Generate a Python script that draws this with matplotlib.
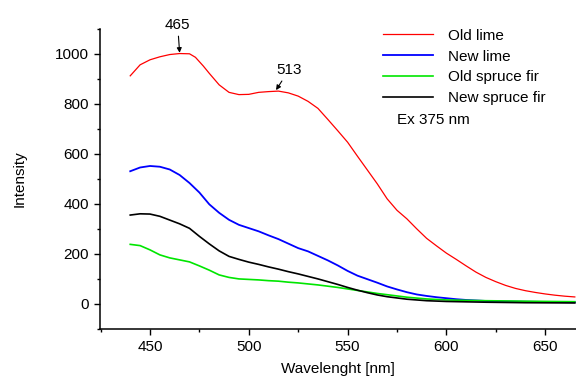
import matplotlib
matplotlib.use("Agg")
from matplotlib import pyplot as plt

plt.rcParams['font.family'] = ['Liberation Sans', 'DejaVu Sans']
plt.rcParams['font.size'] = 11

# spectra
old_lime_x = [440, 445, 450, 455, 460, 465, 470, 473, 477, 480, 485, 490, 495, 500, 505, 510, 515, 520,
              525, 530, 535, 540, 545, 550, 555, 560, 565, 570, 575, 580, 585, 590, 595, 600, 605, 610,
              615, 620, 625, 630, 635, 640, 645, 650, 655, 660, 665]
old_lime_y = [911, 955, 975, 987, 996, 1000, 999, 985, 950, 921, 875, 845, 836, 837, 845, 848, 850, 843,
              830, 809, 781, 737, 692, 646, 590, 535, 480, 420, 374, 340, 300, 262, 232, 203, 178, 152,
              127, 106, 89, 74, 62, 53, 46, 40, 35, 31, 28]

new_lime_x = [440, 445, 450, 455, 460, 465, 470, 475, 480, 485, 490, 495, 500, 505, 510, 515, 520, 525,
              530, 535, 540, 545, 550, 555, 560, 565, 570, 575, 580, 585, 590, 595, 600, 605, 610, 615,
              620, 630, 640, 650, 665]
new_lime_y = [530, 545, 551, 548, 537, 515, 483, 445, 398, 364, 336, 316, 303, 290, 274, 259, 241, 223,
              210, 192, 174, 154, 132, 113, 99, 85, 70, 58, 47, 38, 32, 27, 23, 19, 16, 14,
              12, 10, 9, 8, 7]

old_fir_x = [440, 445, 450, 455, 460, 465, 470, 475, 480, 485, 490, 495, 500, 505, 510, 515, 520, 525,
             530, 535, 540, 545, 550, 555, 560, 565, 570, 575, 580, 590, 600, 620, 640, 665]
old_fir_y = [238, 233, 216, 196, 184, 176, 168, 152, 135, 116, 106, 100, 98, 96, 93, 91, 87, 84,
             80, 76, 71, 66, 60, 54, 48, 42, 37, 32, 27, 20, 16, 13, 11, 9]

new_fir_x = [440, 445, 450, 455, 460, 465, 470, 475, 480, 485, 490, 495, 500, 505, 510, 515, 520, 525,
             530, 535, 540, 545, 550, 555, 560, 565, 570, 575, 580, 590, 600, 620, 640, 665]
new_fir_y = [355, 360, 359, 350, 335, 320, 302, 270, 240, 212, 190, 178, 167, 158, 148, 139, 129, 120,
             110, 100, 89, 78, 66, 55, 45, 36, 29, 24, 19, 13, 10, 7, 5, 4]

fig = plt.figure(figsize=(5.76, 3.8), dpi=100)
ax = fig.add_axes([100 / 576, 1 - 329 / 380, 476 / 576, 300.5 / 380])

ax.plot(old_lime_x, old_lime_y, color='#ff0000', lw=0.9, label='Old lime')
ax.plot(new_lime_x, new_lime_y, color='#0000ff', lw=1.3, label='New lime')
ax.plot(old_fir_x, old_fir_y, color='#00e600', lw=1.2, label='Old spruce fir')
ax.plot(new_fir_x, new_fir_y, color='black', lw=1.2, label='New spruce fir')

ax.set_xlim(424.7, 665.6)
ax.set_ylim(-100, 1100)
ax.set_xticks([450, 500, 550, 600, 650])
ax.set_xticks([425, 475, 525, 575, 625], minor=True)
ax.set_yticks([0, 200, 400, 600, 800, 1000])
ax.set_yticks([-100, 100, 300, 500, 700, 900, 1100], minor=True)
ax.tick_params(which='major', direction='out', length=4, width=1, pad=4)
ax.tick_params(which='minor', direction='out', length=2.5, width=1)
for s in ['top', 'right']:
    ax.spines[s].set_visible(False)
for s in ['left', 'bottom']:
    ax.spines[s].set_linewidth(1.1)

ax.set_xlabel('Wavelenght [nm]', labelpad=6)
ax.set_ylabel('Intensity', labelpad=20)

ax.annotate('465', xy=(465, 1003), xytext=(464, 1114), ha='center', va='center',
            annotation_clip=False,
            arrowprops=dict(arrowstyle='-|>', color='black', lw=0.8, mutation_scale=7, shrinkA=1, shrinkB=0))
ax.annotate('513', xy=(513.8, 854), xytext=(520.3, 934), ha='center', va='center',
            arrowprops=dict(arrowstyle='-|>', color='black', lw=0.8, mutation_scale=7, shrinkA=1, shrinkB=0))

ax.text(0.624, 0.6955, 'Ex 375 nm', transform=ax.transAxes, va='center', ha='left')

ax.legend(loc='upper left', bbox_to_anchor=(375 / 576, 1 - 21 / 380), bbox_transform=fig.transFigure,
          frameon=False, borderpad=0, handlelength=3.3, handletextpad=1.0, labelspacing=0.45)

fig.savefig('out.png', dpi=100)
